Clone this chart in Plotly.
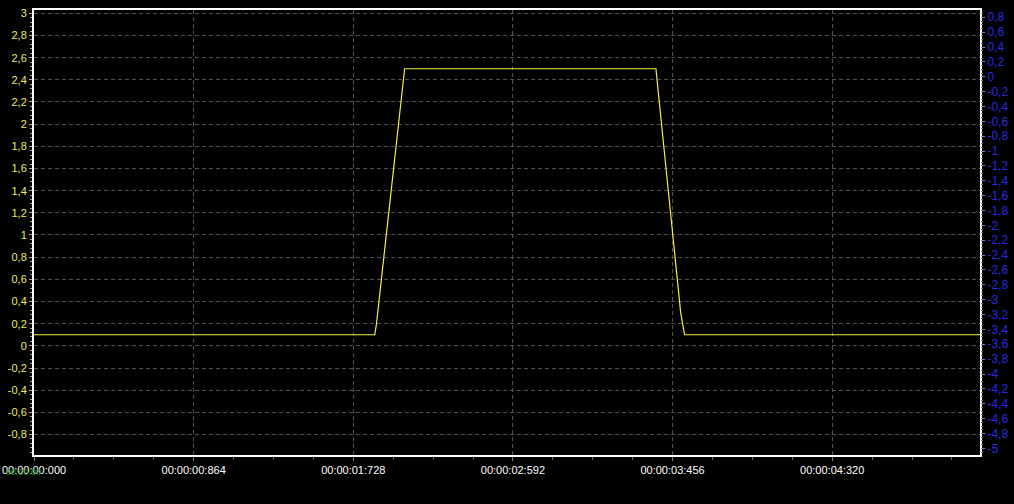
import plotly.graph_objects as go

# Signal data (time in seconds, value)
t_vals = [0.0, 1.844, 1.853, 2.006, 3.366, 3.500, 3.521, 5.12]
v_vals = [0.1, 0.1, 0.19, 2.5, 2.5, 0.3, 0.1, 0.1]

x_tickvals = [0.0, 0.864, 1.728, 2.592, 3.456, 4.320]
x_ticktext = ["00:00:00:000", "00:00:00:864", "00:00:01:728",
              "00:00:02:592", "00:00:03:456", "00:00:04:320"]

left_tickvals = [3.0, 2.8, 2.6, 2.4, 2.2, 2.0, 1.8, 1.6, 1.4, 1.2, 1.0, 0.8, 0.6,
                 0.4, 0.2, 0.0, -0.2, -0.4, -0.6, -0.8]
left_ticktext = ["3", "2,8", "2,6", "2,4", "2,2", "2", "1,8", "1,6", "1,4", "1,2",
                 "1", "0,8", "0,6", "0,4", "0,2", "0", "-0,2", "-0,4", "-0,6", "-0,8"]

right_tickvals = [0.8, 0.6, 0.4, 0.2, 0.0, -0.2, -0.4, -0.6, -0.8, -1.0, -1.2, -1.4,
                  -1.6, -1.8, -2.0, -2.2, -2.4, -2.6, -2.8, -3.0, -3.2, -3.4, -3.6,
                  -3.8, -4.0, -4.2, -4.4, -4.6, -4.8, -5.0]
right_ticktext = ["0,8", "0,6", "0,4", "0,2", "0", "-0,2", "-0,4", "-0,6", "-0,8", "-1",
                  "-1,2", "-1,4", "-1,6", "-1,8", "-2", "-2,2", "-2,4", "-2,6", "-2,8",
                  "-3", "-3,2", "-3,4", "-3,6", "-3,8", "-4", "-4,2", "-4,4", "-4,6",
                  "-4,8", "-5"]

FONT = "Liberation Sans, Arial, sans-serif"
GRID = "#505050"

fig = go.Figure()
fig.add_trace(go.Scatter(x=t_vals, y=v_vals, mode="lines",
                         line=dict(color="#f4f040", width=1.2),
                         showlegend=False, hoverinfo="skip"))
fig.add_trace(go.Scatter(x=[None], y=[None], yaxis="y2", mode="lines",
                         showlegend=False, hoverinfo="skip"))

fig.update_layout(
    width=1014, height=504,
    margin=dict(l=34, r=34, t=10, b=49, autoexpand=False),
    paper_bgcolor="#000000", plot_bgcolor="#000000",
    font=dict(family=FONT, size=11, color="#ffffff"),
    showlegend=False,
    xaxis=dict(
        range=[0, 5.12], automargin=False,
        tickmode="array", tickvals=x_tickvals, ticktext=x_ticktext,
        tickfont=dict(color="#ffffff", size=11, family=FONT),
        ticks="outside", ticklen=4, tickcolor="#777777",
        showgrid=True, gridcolor=GRID, griddash="4px,3px", gridwidth=1,
        minor=dict(tickmode="linear", tick0=0, dtick=0.216, ticks="outside",
                   ticklen=3, tickcolor="#666666", showgrid=False),
        showline=True, linecolor="#ffffff", linewidth=2, mirror=True,
        zeroline=False, fixedrange=True,
    ),
    yaxis=dict(
        range=[-0.985, 3.03], automargin=False,
        tickmode="array", tickvals=left_tickvals, ticktext=left_ticktext,
        tickfont=dict(color="#ecec60", size=11, family=FONT),
        ticks="outside", ticklen=3, tickcolor="#aaaaaa",
        showgrid=True, gridcolor=GRID, griddash="4px,3px", gridwidth=1,
        minor=dict(tickmode="linear", tick0=0, dtick=0.04, ticks="outside",
                   ticklen=2, tickcolor="#999999", showgrid=False),
        showline=True, linecolor="#ffffff", linewidth=2, mirror=True,
        zeroline=False, fixedrange=True,
    ),
    yaxis2=dict(
        overlaying="y", side="right", automargin=False,
        range=[-5.09, 0.898],
        tickmode="array", tickvals=right_tickvals, ticktext=right_ticktext,
        tickfont=dict(color="#2a2ae0", size=12, family=FONT),
        ticks="outside", ticklen=4, tickcolor="#8888aa",
        minor=dict(tickmode="linear", tick0=0, dtick=0.05, ticks="outside",
                   ticklen=2, tickcolor="#777777", showgrid=False),
        showgrid=False, showline=False, zeroline=False, fixedrange=True,
    ),
)

fig.add_annotation(text="00:00:00", xref="paper", yref="paper", x=0.0, y=0.0,
                   xanchor="left", yanchor="top", xshift=-30, yshift=-10,
                   showarrow=False, font=dict(color="#1a8a1a", size=9, family=FONT))

fig.write_html(
    "out.html",
    config={"displayModeBar": False, "staticPlot": True},
    post_script="document.body.style.margin='0';document.body.style.background='#000';",
)
